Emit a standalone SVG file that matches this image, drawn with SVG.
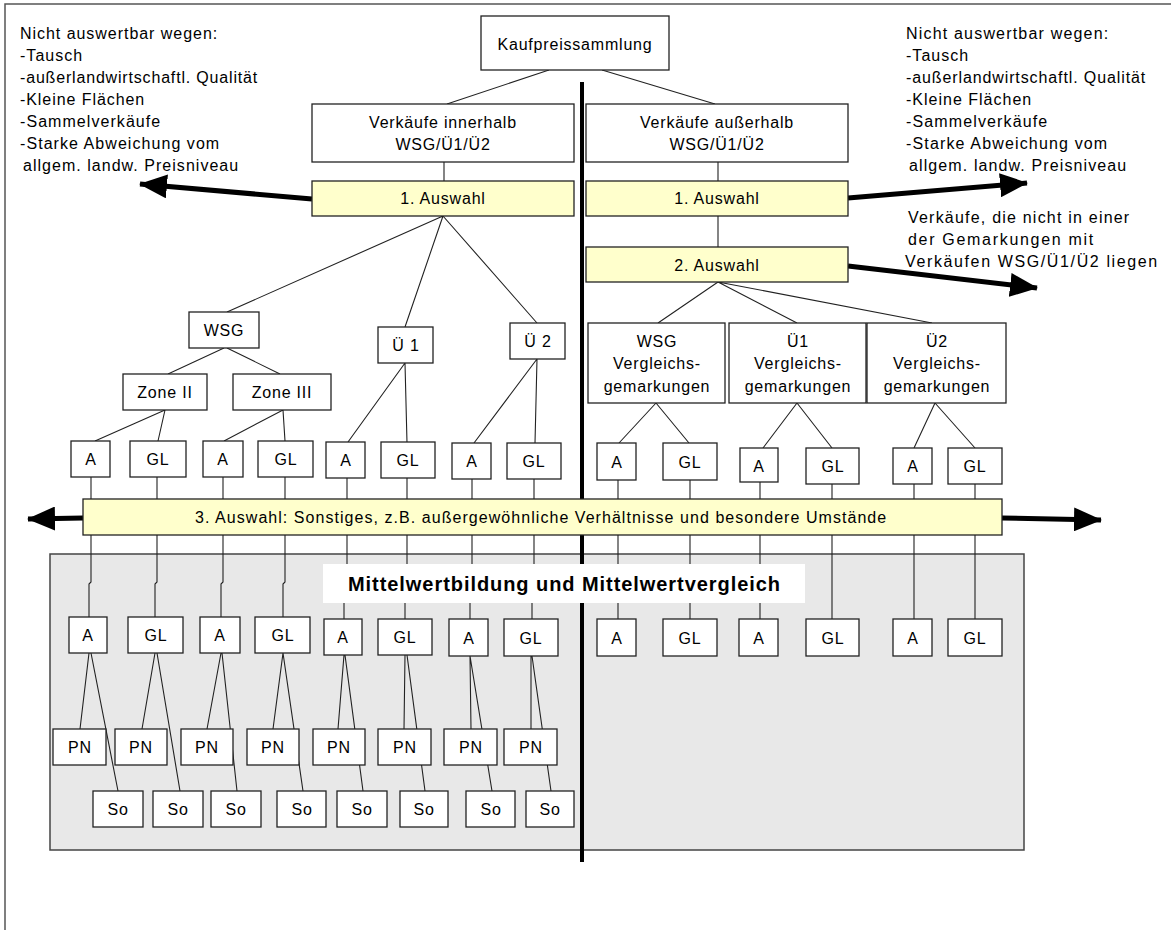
<svg xmlns="http://www.w3.org/2000/svg" width="1171" height="930" viewBox="0 0 1171 930">
<style>
.box{fill:#fff;stroke:#222;stroke-width:1.3}
.sel{fill:#FFFFCC;stroke:#222;stroke-width:1.3}
.t{font-family:"Liberation Sans",Arial,sans-serif;font-size:16px;fill:#000;text-anchor:middle;letter-spacing:0.8px}
.l{font-family:"Liberation Sans",Arial,sans-serif;font-size:16px;fill:#000;letter-spacing:0.8px}
.c{stroke:#222;stroke-width:1.1;fill:none}
.ar{stroke:#000;stroke-width:5;fill:none;marker-end:url(#ah)}
</style>
<defs>
<marker id="ah" markerUnits="userSpaceOnUse" markerWidth="28" markerHeight="24" refX="27" refY="12" orient="auto">
<path d="M0,0 L28,12 L0,24 z" fill="#000"/>
</marker>
</defs>
<rect x="0" y="0" width="1171" height="930" fill="#fff"/>
<path d="M5,930 V4 H1171" fill="none" stroke="#555" stroke-width="1.5"/>

<g id="text-left">
<text class="l" x="20" y="39" textLength="198">Nicht auswertbar wegen:</text>
<text class="l" x="20" y="61" textLength="63">-Tausch</text>
<text class="l" x="20" y="83" textLength="238">-außerlandwirtschaftl. Qualität</text>
<text class="l" x="20" y="105" textLength="125">-Kleine Flächen</text>
<text class="l" x="20" y="127" textLength="141">-Sammelverkäufe</text>
<text class="l" x="20" y="149" textLength="200">-Starke Abweichung vom</text>
<text class="l" x="23" y="171" textLength="216">allgem. landw. Preisniveau</text>
</g>
<g id="text-right">
<text class="l" x="906" y="39" textLength="203">Nicht auswertbar wegen:</text>
<text class="l" x="906" y="61" textLength="63">-Tausch</text>
<text class="l" x="906" y="83" textLength="240">-außerlandwirtschaftl. Qualität</text>
<text class="l" x="906" y="105" textLength="126">-Kleine Flächen</text>
<text class="l" x="906" y="127" textLength="142">-Sammelverkäufe</text>
<text class="l" x="906" y="149" textLength="202">-Starke Abweichung vom</text>
<text class="l" x="909" y="171" textLength="218">allgem. landw. Preisniveau</text>
<text class="l" x="908" y="223" textLength="222">Verkäufe, die nicht in einer</text>
<text class="l" x="908" y="245" textLength="186">der Gemarkungen mit</text>
<text class="l" x="905" y="267" textLength="253">Verkäufen WSG/Ü1/Ü2 liegen</text>
</g>

<rect x="50" y="554" width="974" height="296" fill="#E8E8E8" stroke="#444" stroke-width="1.5"/>

<g id="connectors">
<path class="c" d="M549,70 L447,104 M602,70 L715,104 M444,162 V181 M718,162 V181 M718,216 V247"/>
<path class="c" d="M443,216 L227,312 M443,216 L405,327 M443,216 L537,323"/>
<path class="c" d="M718,282 L658,323 M718,282 L797,323 M718,282 L932,323"/>
<path class="c" d="M224,348 L168,374 M227,348 L280,374"/>
<path class="c" d="M165,410 L95,441 M165,410 L158,441 M283,410 L224,441 M283,410 L285,441"/>
<path class="c" d="M405,363 L348,442 M405,363 L407,443 M537,359 L474,443 M537,359 L535,443"/>
<path class="c" d="M656,403 L619,443 M656,403 L689,443 M797,403 L763,448 M797,403 L832,448 M935,403 L914,448 M935,403 L975,448"/>
<path class="c" d="M91,477 V499 M157,477 V499 M223,477 V499 M285,477 V499 M347,478 V499 M407,478 V499 M472,479 V499 M534,479 V499 M618,480 V499 M690,480 V499 M760,482 V499 M832,484 V499 M914,484 V499 M975,484 V499"/>
<path class="c" d="M91,535 V582 L89,584 V617 M157,535 V582 L155,584 V617 M223,535 V582 L221,584 V617 M285,535 V582 L283,584 V617 M347,535 V582 L344,584 V619 M407,535 V582 L405,584 V619 M472,535 V582 L470,584 V619 M534,535 V582 L532,584 V619 M618,535 V619 M690,535 V619 M760,535 V619 M832,535 V619 M914,535 V619 M975,535 V619"/>
<path class="c" d="M89,653 L80,729 M91,653 L118,791 M155,653 L142,729 M157,653 L180,791 M221,653 L207,729 M222,653 L237,791 M283,653 L273,729 M283,653 L303,791 M344,655 L338,729 M345,655 L363,791 M405,655 L404,729 M407,655 L425,791 M470,656 L471,729 M470,656 L492,791 M531,656 L531,729 M532,656 L551,791"/>
<line x1="582" y1="82" x2="582" y2="862" stroke="#000" stroke-width="4"/>
<line class="ar" x1="312" y1="199" x2="140" y2="184"/>
<line class="ar" x1="848" y1="198" x2="1027" y2="183"/>
<line class="ar" x1="848" y1="266" x2="1037" y2="288"/>
<line class="ar" x1="83" y1="518" x2="28" y2="519"/>
<line class="ar" x1="1002" y1="518" x2="1101" y2="520"/>
</g>

<g id="n-kauf"><rect class="box" x="481" y="16" width="188" height="54"/><text class="t" x="575" y="50">Kaufpreissammlung</text></g>
<g id="n-inner"><rect class="box" x="312" y="104" width="262" height="58"/><text class="t" x="443" y="128">Verkäufe innerhalb</text><text class="t" x="443" y="150">WSG/Ü1/Ü2</text></g>
<g id="n-outer"><rect class="box" x="586" y="104" width="262" height="58"/><text class="t" x="717" y="128">Verkäufe außerhalb</text><text class="t" x="717" y="150">WSG/Ü1/Ü2</text></g>
<g id="n-aus1l"><rect class="sel" x="312" y="181" width="262" height="35"/><text class="t" x="443" y="204">1. Auswahl</text></g>
<g id="n-aus1r"><rect class="sel" x="586" y="181" width="262" height="35"/><text class="t" x="717" y="204">1. Auswahl</text></g>
<g id="n-aus2"><rect class="sel" x="586" y="247" width="262" height="35"/><text class="t" x="717" y="271">2. Auswahl</text></g>
<g id="n-wsg"><rect class="box" x="189" y="312" width="70" height="36"/><text class="t" x="224" y="336">WSG</text></g>
<g id="n-u1"><rect class="box" x="378" y="327" width="55" height="36"/><text class="t" x="406" y="351">Ü 1</text></g>
<g id="n-u2"><rect class="box" x="510" y="323" width="55" height="36"/><text class="t" x="538" y="347">Ü 2</text></g>
<g id="n-z2"><rect class="box" x="123" y="374" width="84" height="36"/><text class="t" x="165" y="398">Zone II</text></g>
<g id="n-z3"><rect class="box" x="233" y="374" width="98" height="36"/><text class="t" x="282" y="398">Zone III</text></g>
<g id="n-wsgv"><rect class="box" x="588" y="323" width="137" height="80"/><text class="t" x="657" y="347">WSG</text><text class="t" x="657" y="369">Vergleichs-</text><text class="t" x="657" y="392">gemarkungen</text></g>
<g id="n-u1v"><rect class="box" x="729" y="323" width="137" height="80"/><text class="t" x="798" y="347">Ü1</text><text class="t" x="798" y="369">Vergleichs-</text><text class="t" x="798" y="392">gemarkungen</text></g>
<g id="n-u2v"><rect class="box" x="867" y="323" width="139" height="80"/><text class="t" x="937" y="347">Ü2</text><text class="t" x="937" y="369">Vergleichs-</text><text class="t" x="937" y="392">gemarkungen</text></g>

<g id="row1">
<g id="r1-1"><rect class="box" x="71" y="441" width="39" height="36"/><text class="t" x="91" y="465">A</text></g>
<g id="r1-2"><rect class="box" x="130" y="441" width="56" height="36"/><text class="t" x="158" y="465">GL</text></g>
<g id="r1-3"><rect class="box" x="203" y="441" width="40" height="36"/><text class="t" x="223" y="465">A</text></g>
<g id="r1-4"><rect class="box" x="258" y="441" width="55" height="36"/><text class="t" x="286" y="465">GL</text></g>
<g id="r1-5"><rect class="box" x="326" y="442" width="39" height="36"/><text class="t" x="346" y="466">A</text></g>
<g id="r1-6"><rect class="box" x="381" y="442" width="54" height="36"/><text class="t" x="408" y="466">GL</text></g>
<g id="r1-7"><rect class="box" x="452" y="443" width="39" height="36"/><text class="t" x="472" y="467">A</text></g>
<g id="r1-8"><rect class="box" x="507" y="443" width="54" height="36"/><text class="t" x="534" y="467">GL</text></g>
<g id="r1-9"><rect class="box" x="597" y="443" width="39" height="37"/><text class="t" x="617" y="468">A</text></g>
<g id="r1-10"><rect class="box" x="663" y="443" width="54" height="37"/><text class="t" x="690" y="468">GL</text></g>
<g id="r1-11"><rect class="box" x="740" y="448" width="38" height="34"/><text class="t" x="759" y="472">A</text></g>
<g id="r1-12"><rect class="box" x="806" y="448" width="53" height="36"/><text class="t" x="833" y="472">GL</text></g>
<g id="r1-13"><rect class="box" x="893" y="448" width="39" height="36"/><text class="t" x="913" y="472">A</text></g>
<g id="r1-14"><rect class="box" x="948" y="448" width="54" height="36"/><text class="t" x="975" y="472">GL</text></g>
</g>

<g id="n-aus3"><rect class="sel" x="83" y="499" width="919" height="36"/><text class="t" x="541" y="523" textLength="692">3. Auswahl: Sonstiges, z.B. außergewöhnliche Verhältnisse und besondere Umstände</text></g>

<g id="n-title"><rect x="323" y="564" width="482" height="39" fill="#fff"/><text x="564" y="591" font-family="Liberation Sans,Arial,sans-serif" font-size="20" font-weight="bold" text-anchor="middle" fill="#000" textLength="432">Mittelwertbildung und Mittelwertvergleich</text></g>

<g id="row2">
<g id="r2-1"><rect class="box" x="69" y="617" width="38" height="36"/><text class="t" x="88" y="641">A</text></g>
<g id="r2-2"><rect class="box" x="128" y="617" width="55" height="36"/><text class="t" x="156" y="641">GL</text></g>
<g id="r2-3"><rect class="box" x="200" y="617" width="40" height="36"/><text class="t" x="220" y="641">A</text></g>
<g id="r2-4"><rect class="box" x="255" y="617" width="55" height="36"/><text class="t" x="283" y="641">GL</text></g>
<g id="r2-5"><rect class="box" x="324" y="619" width="38" height="36"/><text class="t" x="343" y="643">A</text></g>
<g id="r2-6"><rect class="box" x="378" y="619" width="54" height="36"/><text class="t" x="405" y="643">GL</text></g>
<g id="r2-7"><rect class="box" x="449" y="619" width="39" height="37"/><text class="t" x="469" y="644">A</text></g>
<g id="r2-8"><rect class="box" x="504" y="619" width="54" height="37"/><text class="t" x="531" y="644">GL</text></g>
<g id="r2-9"><rect class="box" x="597" y="619" width="39" height="37"/><text class="t" x="617" y="644">A</text></g>
<g id="r2-10"><rect class="box" x="663" y="619" width="54" height="37"/><text class="t" x="690" y="644">GL</text></g>
<g id="r2-11"><rect class="box" x="739" y="619" width="39" height="37"/><text class="t" x="759" y="644">A</text></g>
<g id="r2-12"><rect class="box" x="806" y="619" width="53" height="37"/><text class="t" x="833" y="644">GL</text></g>
<g id="r2-13"><rect class="box" x="893" y="619" width="39" height="37"/><text class="t" x="913" y="644">A</text></g>
<g id="r2-14"><rect class="box" x="948" y="619" width="54" height="37"/><text class="t" x="975" y="644">GL</text></g>
</g>

<g id="row-pn">
<g id="pn1"><rect class="box" x="53" y="729" width="53" height="36"/><text class="t" x="80" y="753">PN</text></g>
<g id="pn2"><rect class="box" x="115" y="729" width="52" height="36"/><text class="t" x="141" y="753">PN</text></g>
<g id="pn3"><rect class="box" x="181" y="729" width="52" height="36"/><text class="t" x="207" y="753">PN</text></g>
<g id="pn4"><rect class="box" x="247" y="729" width="52" height="36"/><text class="t" x="273" y="753">PN</text></g>
<g id="pn5"><rect class="box" x="313" y="729" width="52" height="36"/><text class="t" x="339" y="753">PN</text></g>
<g id="pn6"><rect class="box" x="378" y="729" width="53" height="36"/><text class="t" x="405" y="753">PN</text></g>
<g id="pn7"><rect class="box" x="444" y="729" width="53" height="36"/><text class="t" x="471" y="753">PN</text></g>
<g id="pn8"><rect class="box" x="504" y="729" width="53" height="36"/><text class="t" x="531" y="753">PN</text></g>
</g>

<g id="row-so">
<g id="so1"><rect class="box" x="93" y="791" width="50" height="36"/><text class="t" x="118" y="815">So</text></g>
<g id="so2"><rect class="box" x="153" y="791" width="50" height="36"/><text class="t" x="178" y="815">So</text></g>
<g id="so3"><rect class="box" x="211" y="791" width="50" height="36"/><text class="t" x="236" y="815">So</text></g>
<g id="so4"><rect class="box" x="277" y="791" width="49" height="36"/><text class="t" x="302" y="815">So</text></g>
<g id="so5"><rect class="box" x="337" y="791" width="50" height="36"/><text class="t" x="362" y="815">So</text></g>
<g id="so6"><rect class="box" x="400" y="791" width="48" height="36"/><text class="t" x="424" y="815">So</text></g>
<g id="so7"><rect class="box" x="466" y="791" width="49" height="36"/><text class="t" x="491" y="815">So</text></g>
<g id="so8"><rect class="box" x="526" y="791" width="48" height="36"/><text class="t" x="550" y="815">So</text></g>
</g>
</svg>
